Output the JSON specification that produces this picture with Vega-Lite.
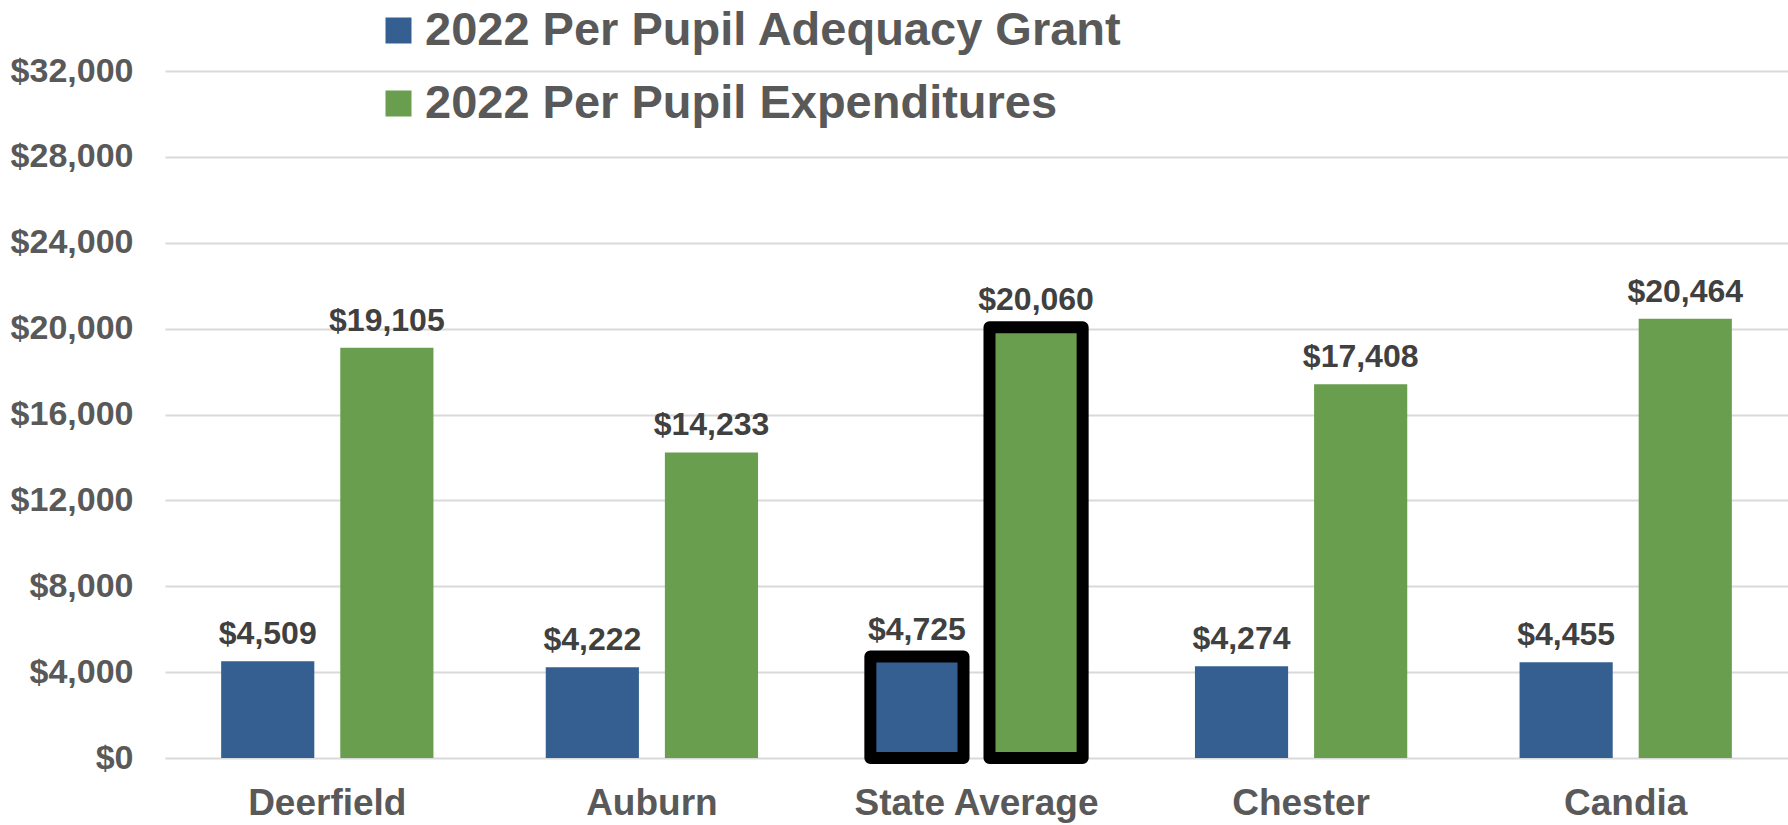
{
  "$schema": "https://vega.github.io/schema/vega-lite/v6.json",
  "autosize": {"type": "none"},
  "width": 1623,
  "height": 687,
  "padding": {"left": 165, "top": 71, "right": 0, "bottom": 67},
  "background": "white",
  "config": {
    "view": {"stroke": null},
    "font": "Liberation Sans"
  },
  "data": {
    "values": [
      {"district": "Deerfield", "series": "2022 Per Pupil Adequacy Grant", "value": 4509},
      {"district": "Deerfield", "series": "2022 Per Pupil Expenditures", "value": 19105},
      {"district": "Auburn", "series": "2022 Per Pupil Adequacy Grant", "value": 4222},
      {"district": "Auburn", "series": "2022 Per Pupil Expenditures", "value": 14233},
      {"district": "State Average", "series": "2022 Per Pupil Adequacy Grant", "value": 4725},
      {"district": "State Average", "series": "2022 Per Pupil Expenditures", "value": 20060},
      {"district": "Chester", "series": "2022 Per Pupil Adequacy Grant", "value": 4274},
      {"district": "Chester", "series": "2022 Per Pupil Expenditures", "value": 17408},
      {"district": "Candia", "series": "2022 Per Pupil Adequacy Grant", "value": 4455},
      {"district": "Candia", "series": "2022 Per Pupil Expenditures", "value": 20464}
    ]
  },
  "encoding": {
    "x": {
      "field": "district",
      "type": "nominal",
      "sort": null,
      "scale": {"paddingInner": 0.346, "paddingOuter": 0.173},
      "axis": {
        "title": null,
        "labelAngle": 0,
        "labelFontSize": 37,
        "labelFontWeight": "bold",
        "labelColor": "#595959",
        "labelFont": "Liberation Sans",
        "labelPadding": 27,
        "labelLimit": 500,
        "ticks": false,
        "domain": false
      }
    },
    "xOffset": {
      "field": "series",
      "type": "nominal",
      "sort": ["2022 Per Pupil Adequacy Grant", "2022 Per Pupil Expenditures"],
      "scale": {"paddingInner": 0.218, "paddingOuter": 0}
    },
    "y": {
      "field": "value",
      "type": "quantitative",
      "scale": {"domain": [0, 32000], "nice": false},
      "axis": {
        "title": null,
        "values": [0, 4000, 8000, 12000, 16000, 20000, 24000, 28000, 32000],
        "format": "$,.0f",
        "labelFontSize": 34,
        "labelFontWeight": "bold",
        "labelColor": "#595959",
        "labelFont": "Liberation Sans",
        "labelPadding": 32,
        "ticks": false,
        "domain": false,
        "grid": true,
        "gridColor": "#D9D9D9",
        "gridWidth": 2
      }
    }
  },
  "layer": [
    {
      "mark": {"type": "bar", "strokeJoin": "round"},
      "encoding": {
        "color": {
          "field": "series",
          "type": "nominal",
          "scale": {
            "domain": ["2022 Per Pupil Adequacy Grant", "2022 Per Pupil Expenditures"],
            "range": ["#355F91", "#699E4F"]
          },
          "legend": {
            "title": null,
            "orient": "none",
            "legendX": 210,
            "legendY": -64,
            "symbolType": "square",
            "symbolSize": 676,
            "symbolStrokeWidth": 0,
            "labelFontSize": 47,
            "labelFontWeight": "bold",
            "labelColor": "#595959",
            "labelFont": "Liberation Sans",
            "labelOffset": 3,
            "labelLimit": 1000,
            "rowPadding": 25
          }
        },
        "stroke": {
          "condition": {"test": "datum.district === 'State Average'", "value": "#000000"},
          "value": null
        },
        "strokeWidth": {
          "condition": {"test": "datum.district === 'State Average'", "value": 12},
          "value": 0
        }
      }
    },
    {
      "mark": {
        "type": "text",
        "baseline": "alphabetic",
        "dy": -17,
        "fontSize": 32,
        "fontWeight": "bold",
        "font": "Liberation Sans",
        "color": "#404040"
      },
      "encoding": {
        "text": {"field": "value", "type": "quantitative", "format": "$,.0f"}
      }
    }
  ]
}
